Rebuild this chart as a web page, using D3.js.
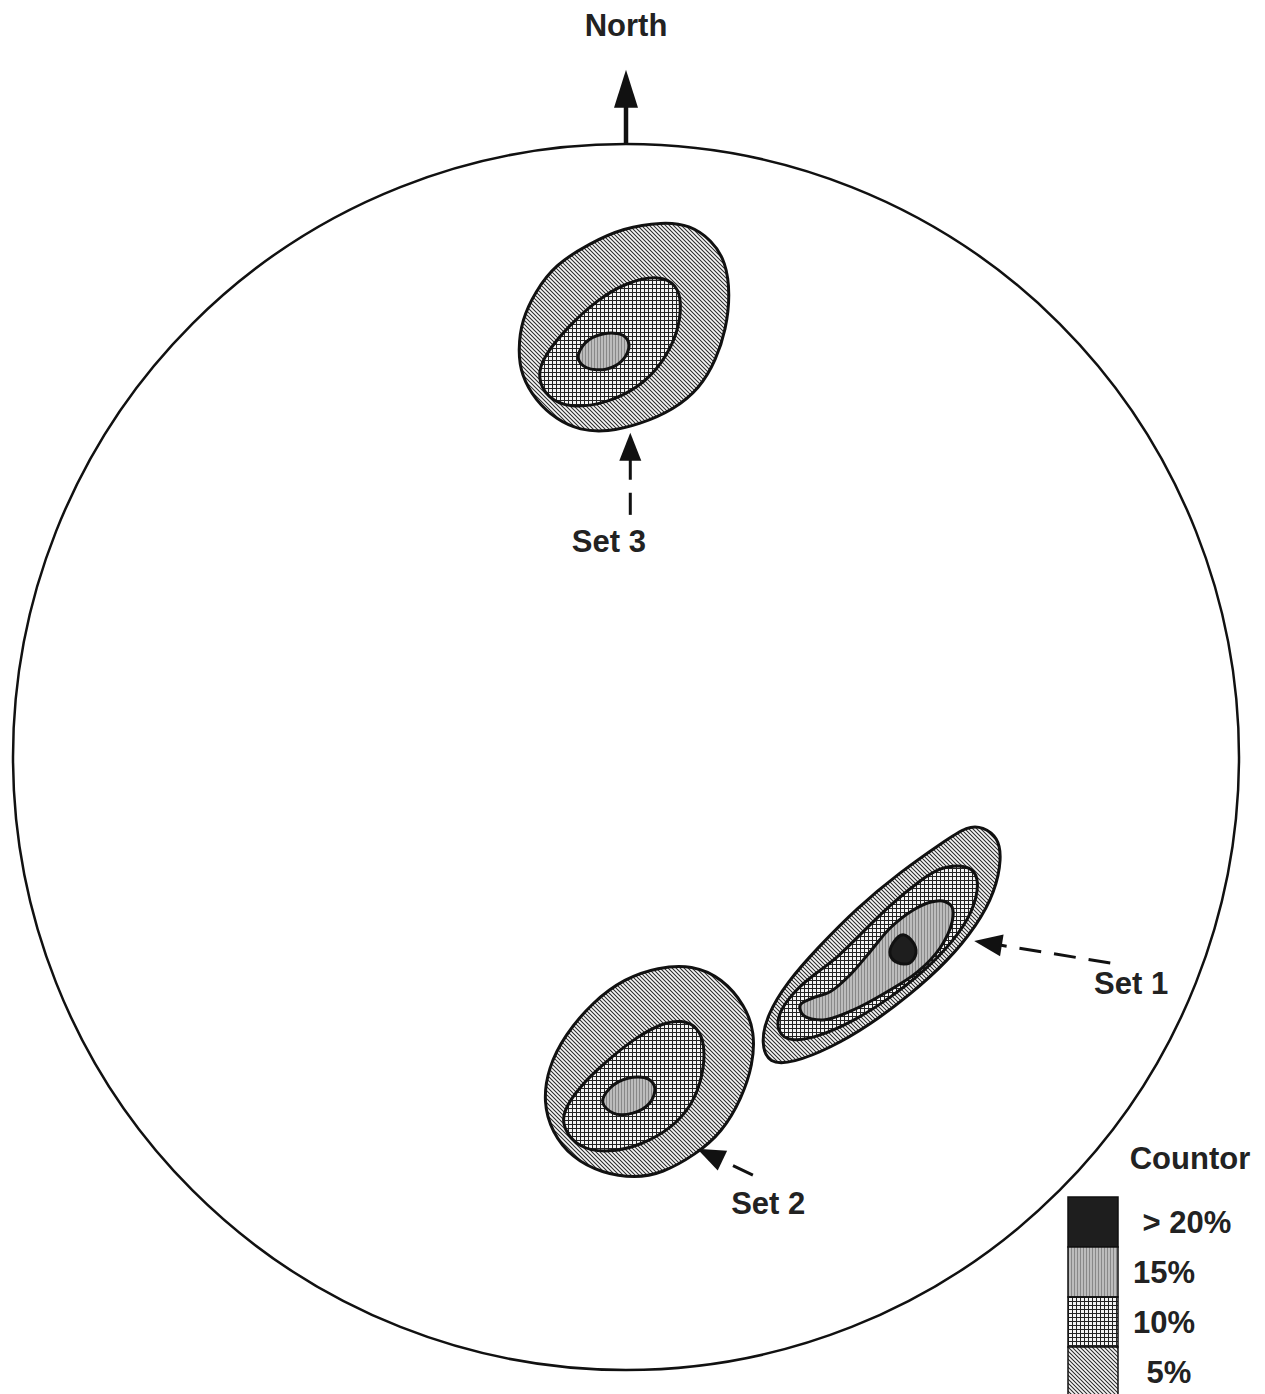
<!DOCTYPE html>
<html>
<head>
<meta charset="utf-8">
<script src="https://cdn.jsdelivr.net/npm/d3@7"></script>
<style>
  html, body { margin: 0; padding: 0; background: #fff; }
  text { font-family: "Liberation Sans", Arial, sans-serif; font-weight: bold; fill: #222; }
</style>
</head>
<body>
<svg id="chart" width="1265" height="1394"></svg>
<script>
// equal-area net, coordinates in net units (radius = 100)
var legendOrder = ["> 20%", "15%", "10%", "5%"];

// Set 3 contours (5, 10, 15 %)
var set3_5 = [[6.0,87.3],[10.4,86.8],[14.0,84.3],[16.3,80.8],[17.0,75.4],[16.3,69.7],[14.7,64.8],[12.1,60.2],
  [7.7,56.6],[2.3,54.3],[-3.1,53.0],[-7.5,53.3],[-11.3,55.0],[-14.8,58.2],[-17.1,62.3],[-17.6,66.4],
  [-17.0,71.3],[-14.8,75.9],[-11.6,80.3],[-5.9,83.8],[-0.5,86.3]];
var set3_10 = [[5.5,78.6],[8.3,77.0],[9.1,74.1],[8.5,69.2],[6.0,64.3],[2.3,60.4],[-3.1,57.7],[-9.1,56.9],
  [-12.9,58.6],[-14.5,62.0],[-13.5,65.3],[-9.6,70.1],[-4.7,74.6],[0.2,77.5]];
var set3_15 = [[-7.8,65.1],[-6.7,67.5],[-3.8,69.0],[-0.5,68.8],[0.5,67.2],[-0.5,64.8],[-3.1,63.3],[-6.4,63.5]];

// Set 2 contours
var set2_5 = [[10.8,-33.9],[15.7,-36.1],[19.4,-40.5],[21.0,-44.9],[20.7,-50.2],[18.9,-55.6],[15.7,-61.2],[11.3,-64.9],
  [5.9,-67.9],[1.5,-68.7],[-3.9,-67.9],[-8.8,-65.4],[-12.1,-61.2],[-13.5,-56.3],[-12.7,-50.7],[-10.0,-45.4],
  [-5.5,-40.0],[-0.2,-36.1],[5.2,-34.3]];
var set2_10 = [[9.1,-42.9],[11.7,-44.0],[12.9,-47.0],[12.6,-51.9],[10.8,-56.8],[7.5,-60.5],[2.6,-63.3],[-2.9,-64.6],
  [-7.8,-63.8],[-10.3,-60.5],[-10.3,-57.9],[-7.8,-54.0],[-3.4,-49.8],[1.5,-45.8],[5.9,-43.4]];
var set2_15 = [[-3.8,-56.3],[-2.6,-54.0],[0.3,-52.4],[3.6,-52.5],[4.7,-54.0],[3.9,-56.4],[1.1,-58.1],[-2.1,-58.1]];

// Set 1 contours
var set1_5 = [[58.2,-11.4],[60.7,-13.1],[61.3,-16.5],[60.2,-22.0],[57.3,-27.4],[52.4,-33.4],[46.3,-38.8],[39.8,-43.7],
  [33.3,-47.5],[27.2,-49.9],[23.3,-50.1],[22.0,-46.7],[23.0,-42.1],[26.3,-36.7],[31.2,-31.2],[37.7,-24.6],
  [44.7,-18.8],[51.7,-13.9],[55.8,-11.2]];
var set1_10 = [[54.0,-17.6],[56.6,-18.1],[57.7,-20.4],[56.6,-25.3],[53.3,-30.2],[48.5,-35.1],[43.1,-39.3],[37.0,-43.2],
  [31.2,-45.7],[26.8,-46.5],[24.6,-44.9],[24.8,-41.6],[27.9,-37.7],[31.2,-35.1],[34.4,-32.8],[38.2,-29.0],
  [43.1,-24.1],[48.0,-20.1],[51.2,-18.1]];
var set1_15 = [[51.7,-23.5],[53.2,-24.5],[53.2,-26.9],[51.2,-31.2],[47.5,-35.1],[42.6,-38.3],[37.0,-41.3],[32.1,-42.9],
  [28.9,-42.1],[28.4,-40.5],[30.5,-39.3],[33.3,-38.3],[36.5,-35.6],[39.8,-31.8],[43.1,-27.9],[46.8,-25.0],[49.6,-23.7]];
var set1_20 = [[43.6,-30.3],[45.2,-29.0],[46.8,-30.2],[47.3,-32.0],[46.3,-33.6],[44.4,-33.6],[43.1,-32.3]];

var contours = [
  {set: "Set 1", level: "5%", pts: set1_5}, {set: "Set 1", level: "10%", pts: set1_10},
  {set: "Set 1", level: "15%", pts: set1_15}, {set: "Set 1", level: "> 20%", pts: set1_20},
  {set: "Set 2", level: "5%", pts: set2_5}, {set: "Set 2", level: "10%", pts: set2_10},
  {set: "Set 2", level: "15%", pts: set2_15},
  {set: "Set 3", level: "5%", pts: set3_5}, {set: "Set 3", level: "10%", pts: set3_10},
  {set: "Set 3", level: "15%", pts: set3_15}
];

// labelled arrows: tail, tip, label position
var arrows = [
  {label: "Set 1", tail: [79.0,-33.6], tip: [56.8,-30.0], at: [82.4,-36.9]},
  {label: "Set 2", tail: [20.7,-68.2], tip: [11.6,-63.9], at: [23.2,-72.8]},
  {label: "Set 3", tail: [0.7,39.5], tip: [0.7,52.9], at: [-2.8,35.2]}
];
var north = {label: "North", tail: [0,100], tip: [0,112.1], at: [0,119.4]};

var cx = 626, cy = 757, R = 613;
var svg = d3.select("#chart");
var x = d3.scaleLinear().domain([-100, 100]).range([cx - R, cx + R]);
var y = d3.scaleLinear().domain([-100, 100]).range([cy + R, cy - R]);

// fill patterns
var defs = svg.append("defs");
var p5 = defs.append("pattern").attr("id", "pat5%").attr("patternUnits", "userSpaceOnUse")
  .attr("width", 4).attr("height", 4);
p5.append("rect").attr("width", 4).attr("height", 4).attr("fill", "#f6f6f6");
p5.append("path").attr("d", "M-1,-1 L5,5 M-1,3 L1,5 M3,-1 L5,1")
  .attr("stroke", "#2a2a2a").attr("stroke-width", 1.05);

var p10 = defs.append("pattern").attr("id", "pat10%").attr("patternUnits", "userSpaceOnUse")
  .attr("width", 4).attr("height", 4);
p10.append("rect").attr("width", 4).attr("height", 4).attr("fill", "#f4f4f4");
p10.append("path").attr("d", "M0.5,0 V4 M0,0.5 H4")
  .attr("stroke", "#222").attr("stroke-width", 1);

var p15 = defs.append("pattern").attr("id", "pat15%").attr("patternUnits", "userSpaceOnUse")
  .attr("width", 3).attr("height", 4);
p15.append("rect").attr("width", 3).attr("height", 4).attr("fill", "#bcbcbc");
p15.append("path").attr("d", "M0.5,0 V4").attr("stroke", "#888").attr("stroke-width", 1);

function fillFor(level) {
  if (level === "> 20%") return "#1e1e1e";
  return "url(#pat" + level + ")";
}

// net outline
svg.append("circle").attr("cx", x(0)).attr("cy", y(0)).attr("r", x(100) - x(0))
  .attr("fill", "none").attr("stroke", "#111").attr("stroke-width", 2.5);

// broad contours get a smoothing spline, small ones pass through the points
var smooth = d3.line().x(function(d) { return x(d[0]); }).y(function(d) { return y(d[1]); })
  .curve(d3.curveBasisClosed);
var tight = d3.line().x(function(d) { return x(d[0]); }).y(function(d) { return y(d[1]); })
  .curve(d3.curveCatmullRomClosed.alpha(0.5));

svg.append("g").selectAll("path").data(contours).enter().append("path")
  .attr("d", function(d) {
    return (d.level === "5%" || d.level === "10%") ? smooth(d.pts) : tight(d.pts);
  })
  .attr("fill", function(d) { return fillFor(d.level); })
  .attr("stroke", "#111").attr("stroke-width", 3).attr("stroke-linejoin", "round");

// arrows
function drawArrow(a, dashed, headLen, headW, shaftW) {
  var x1 = x(a.tail[0]), y1 = y(a.tail[1]), x2 = x(a.tip[0]), y2 = y(a.tip[1]);
  var dx = x2 - x1, dy = y2 - y1, len = Math.sqrt(dx * dx + dy * dy);
  var ux = dx / len, uy = dy / len, px = -uy, py = ux;
  var bx = x2 - ux * headLen, by = y2 - uy * headLen;
  svg.append("line").attr("x1", x1).attr("y1", y1)
    .attr("x2", bx + ux * 2).attr("y2", by + uy * 2)
    .attr("stroke", "#111").attr("stroke-width", shaftW)
    .attr("stroke-dasharray", dashed ? "22,13" : null);
  svg.append("path")
    .attr("d", "M" + x2 + "," + y2 + "L" + (bx + px * headW) + "," + (by + py * headW) +
      "L" + (bx - px * headW) + "," + (by - py * headW) + "Z")
    .attr("fill", "#111");
  svg.append("text").attr("x", x(a.at[0])).attr("y", y(a.at[1]))
    .attr("text-anchor", "middle").attr("dominant-baseline", "central")
    .attr("font-size", 31).text(a.label);
}
arrows.forEach(function(a) { drawArrow(a, true, 28, 11, 3); });
drawArrow(north, false, 38, 12, 4.5);

// legend
var lg = svg.append("g").attr("transform", "translate(1068,1197)");
var boxH = 50;
lg.append("text").attr("x", 122).attr("y", -39).attr("text-anchor", "middle")
  .attr("dominant-baseline", "central").attr("font-size", 31).text("Countor");
var items = lg.selectAll("g.item").data(legendOrder).enter().append("g")
  .attr("transform", function(d, i) { return "translate(0," + i * boxH + ")"; });
items.append("rect").attr("width", 50).attr("height", boxH)
  .attr("fill", function(d) { return fillFor(d); })
  .attr("stroke", "#111").attr("stroke-width", 1.5);
items.append("text").attr("x", function(d) { return d === "5%" ? 101 : (d === "> 20%" ? 119 : 96); })
  .attr("y", boxH / 2).attr("text-anchor", "middle").attr("dominant-baseline", "central")
  .attr("font-size", 31).text(function(d) { return d; });
</script>
</body>
</html>
